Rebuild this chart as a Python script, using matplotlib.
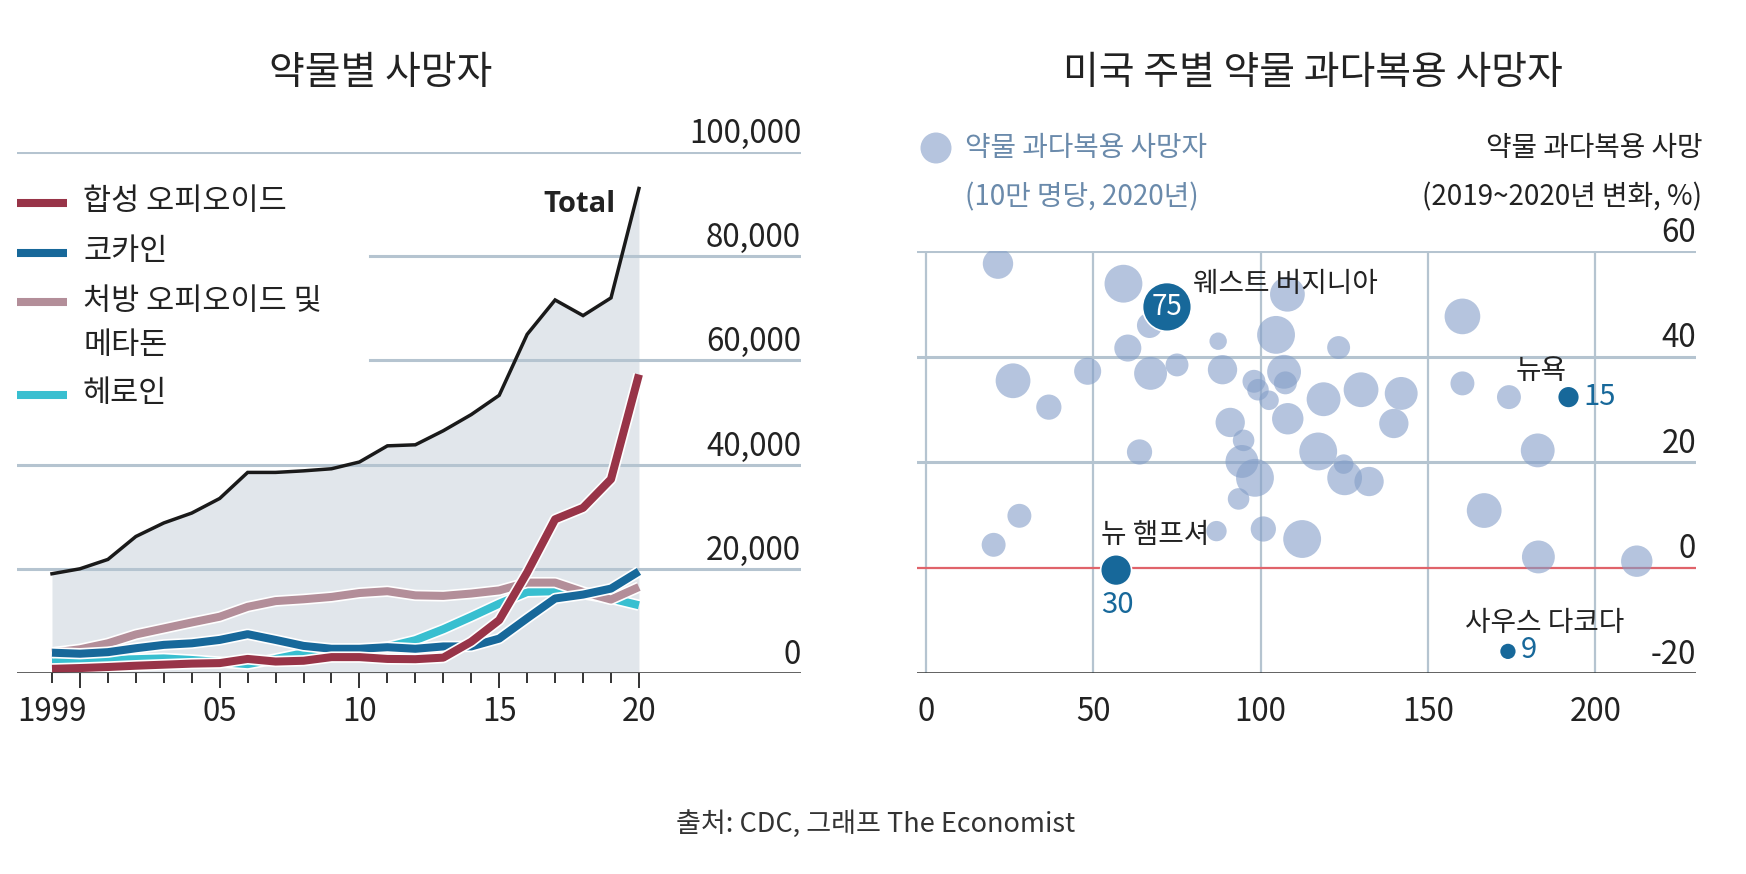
import matplotlib.pyplot as plt
import matplotlib.patheffects as peff
from matplotlib.lines import Line2D
from matplotlib.patches import Ellipse

plt.rcParams['font.family'] = ['Noto Sans CJK KR', 'DejaVu Sans']

W, H = 1746, 874
DARK = "#222222"
GRID = "#b5c4d0"
FILL = "#e1e6eb"
RED = "#983448"
BLUE = "#17689a"
MAUVE = "#b38e99"
CYAN = "#38bfd0"
BUBBLE = "#849ec8"
LEGEND_TXT = "#6a8aab"

# ---- left chart data (deaths by drug) ----
years = list(range(1999, 2021))
total = [19050, 20000, 21800, 26200, 28800, 30700, 33500, 38500, 38500, 38800, 39200,
         40500, 43600, 43800, 46500, 49600, 53300, 65000, 71600, 68600, 72000, 93000]
synthetic = [800, 950, 1150, 1400, 1600, 1800, 1900, 2700, 2200, 2350, 3050,
             3050, 2700, 2650, 2950, 6000, 10150, 19300, 29500, 31700, 37200, 57300]
cocaine = [3900, 3700, 4000, 4750, 5400, 5700, 6350, 7450, 6350, 5200, 4650,
           4650, 4950, 4650, 5100, 5100, 6600, 10500, 14300, 15050, 16200, 19500]
prescription = [3900, 4550, 5700, 7400, 8550, 9700, 10800, 12700, 13800, 14150, 14600,
                15350, 15700, 14900, 14800, 15250, 15850, 17350, 17350, 15550, 14100, 16500]
heroin = [2300, 2350, 2500, 2650, 2800, 2500, 2100, 1700, 2700, 3800, 4200,
          4400, 5000, 6300, 8400, 10800, 13300, 15550, 15700, 15200, 14300, 13000]

left_yticks = [0, 20000, 40000, 60000, 80000, 100000]
left_xlabels = {1999: "1999", 2005: "05", 2010: "10", 2015: "15", 2020: "20"}
legend_names = ["합성 오피오이드", "코카인", "처방 오피오이드 및\n메타돈", "헤로인"]

# ---- right chart data (states) ----
state_x = [21.5, 59, 108, 160.3, 66.8, 104.6, 87.3, 123.3, 60.3, 26, 48.3, 67.1, 75,
           88.6, 107, 98, 107.4, 99.2, 102.5, 118.8, 130, 142, 160.3, 174.2, 36.7,
           90.9, 108.1, 139.8, 94.9, 63.8, 117.2, 182.8, 94.4, 124.8, 125.1, 98.3,
           132.4, 93.4, 166.8, 27.9, 86.8, 100.8, 112.4, 20.2, 183, 212.4]
state_y = [57.6, 53.8, 51.8, 47.6, 45.9, 44.1, 42.9, 41.7, 41.6, 35.4, 37.2, 36.8, 38.4,
           37.5, 37.1, 35.3, 35, 33.7, 31.7, 31.9, 33.7, 33, 34.9, 32.3, 30.4,
           27.5, 28.2, 27.3, 24.1, 21.9, 22, 22.2, 20.1, 19.6, 17, 17,
           16.3, 13, 10.8, 9.8, 6.9, 7.3, 5.4, 4.3, 2, 1.2]
state_rate = [29, 45, 38, 40, 20, 45, 9.5, 16.5, 23, 38, 23, 34, 16.5,
              27, 36, 16.5, 16.5, 14.6, 12, 36, 38, 34, 18, 18, 20,
              27, 31, 27, 14.6, 20, 45, 36, 34, 12, 38, 45,
              27, 14.6, 38, 18, 13, 20, 45, 18, 34, 31]

hl_names = ["웨스트 버지니아", "뉴욕", "뉴 햄프셔", "사우스 다코다"]
hl_x = [72, 192, 56.8, 173.9]
hl_y = [49.4, 32.3, -0.5, -15.9]
hl_rate = [75, 15, 30, 9]

right_xticks = [0, 50, 100, 150, 200]
right_yticks = [-20, 0, 20, 40, 60]

SIZE_K = 16.5  # marker area (pt^2) per death rate unit


def px(x0, y0, x1, y1):
    # pixel box (top-left origin) -> figure fraction rect
    return [x0 / W, 1 - y1 / H, (x1 - x0) / W, (y1 - y0) / H]


fig = plt.figure(figsize=(W / 100, H / 100), dpi=100)

# ================= left chart =================
ax = fig.add_axes(px(17, 152, 801, 673))
ax.set_xlim(1999 - 35 / 27.95, 1999 + 749 / 27.95)
ax.set_ylim(0, 100000)
for s in ax.spines.values():
    s.set_visible(False)

ax.fill_between(years, 0, total, color=FILL, lw=0, zorder=1)

for v in left_yticks:
    if v > 0:
        xmin = 0.45 if v in (60000, 80000) else 0
        ax.axhline(v, xmin=xmin, xmax=1, color=GRID, lw=2.2, zorder=2)
    ax.annotate(f"{v:,}", xy=(1, v), xycoords=("axes fraction", "data"),
                xytext=(0, 13), textcoords="offset points",
                ha="right", va="center", fontsize=22.5, color=DARK)
ax.axhline(0, color="#333333", lw=1.8, zorder=6)

ax.plot(years, total, color="#1a1a1a", lw=2.5, zorder=3, solid_joinstyle="miter")

stroke = [peff.withStroke(linewidth=8.2, foreground="white")]
series = [(heroin, CYAN), (prescription, MAUVE), (cocaine, BLUE), (synthetic, RED)]
for i, (vals, col) in enumerate(series):
    ax.plot(years, vals, color=col, lw=5.8, zorder=4 + i * 0.1,
            solid_capstyle="butt", path_effects=stroke)

ax.set_xticks([2000, 2005, 2010, 2015, 2020])
ax.set_xticks([y for y in years if y % 5 != 0], minor=True)
ax.tick_params(axis="x", which="major", length=10.5, width=1.4, color="#333333",
               labelbottom=False)
ax.tick_params(axis="x", which="minor", length=7, width=1.4, color="#333333")
ax.set_yticks([])
for yr, lab in left_xlabels.items():
    ax.annotate(lab, xy=(yr, 0), xycoords=("data", "axes fraction"),
                xytext=(0, -28), textcoords="offset points",
                ha="center", va="center", fontsize=22.5, color=DARK)

fig.text(616 / W, 1 - 204 / H, "Total", ha="right", va="center",
         fontsize=21, fontweight="bold", color=DARK, family=["Open Sans", "DejaVu Sans"])

# legend
leg_cols = [RED, BLUE, MAUVE, CYAN]
leg_y = [203, 253, 302, 395]
for col, yy, name in zip(leg_cols, leg_y, legend_names):
    fig.add_artist(Line2D([17 / W, 67 / W], [1 - yy / H, 1 - yy / H],
                          color=col, lw=5.8, solid_capstyle="butt"))
    lines = name.split("\n")
    for k, t in enumerate(lines):
        fig.text(83 / W, 1 - (yy - 1 + k * 45) / H, t, ha="left", va="center",
                 fontsize=22, color=DARK)

fig.text(381 / W, 1 - 73 / H, "약물별 사망자", ha="center", va="center",
         fontsize=28, color=DARK)

# ================= right chart =================
bx = fig.add_axes(px(917, 251, 1696, 673))
bx.set_xlim(-2.7, 230.1)
bx.set_ylim(-20, 60)
for s in bx.spines.values():
    s.set_visible(False)
bx.set_xticks([])
bx.set_yticks([])

for v in right_xticks:
    bx.axvline(v, color=GRID, lw=1.6, zorder=1)
    bx.annotate(str(v), xy=(v, 0), xycoords=("data", "axes fraction"),
                xytext=(0, -28), textcoords="offset points",
                ha="center", va="center", fontsize=22.5, color=DARK)
for v in right_yticks:
    if v == 0:
        bx.axhline(v, color="#e0636a", lw=1.6, zorder=1.5)
    elif v == -20:
        bx.axhline(v, color="#333333", lw=1.8, zorder=6)
    else:
        bx.axhline(v, color=GRID, lw=2.2, zorder=1)
    bx.annotate(str(v), xy=(1, v), xycoords=("axes fraction", "data"),
                xytext=(0, 13), textcoords="offset points",
                ha="right", va="center", fontsize=22.5, color=DARK)

bx.scatter(state_x, state_y, s=[SIZE_K * r for r in state_rate], color=BUBBLE,
           alpha=0.6, lw=0, zorder=3)
bx.scatter(hl_x, hl_y, s=[SIZE_K * r for r in hl_rate], color=BLUE,
           edgecolors="white", linewidths=1.2, zorder=5)

# West Virginia
bx.text(hl_x[0], hl_y[0], str(hl_rate[0]), ha="center", va="center",
        fontsize=20, color="white", zorder=6)
bx.text(79.7, 53.8, hl_names[0], ha="left", va="center", fontsize=20, color=DARK, zorder=6)
# New York
bx.text(183.8, 37.2, hl_names[1], ha="center", va="center", fontsize=20, color=DARK, zorder=6)
bx.text(196.3, 32.3, str(hl_rate[1]), ha="left", va="center", fontsize=21, color=BLUE, zorder=6)
# New Hampshire
bx.text(52.4, 6.1, hl_names[2], ha="left", va="center", fontsize=20, color=DARK, zorder=6)
bx.text(57.2, -7.2, str(hl_rate[2]), ha="center", va="center", fontsize=21, color=BLUE, zorder=6)
# South Dakota
bx.text(161, -10.5, hl_names[3], ha="left", va="center", fontsize=20, color=DARK, zorder=6)
bx.text(177.6, -15.6, str(hl_rate[3]), ha="left", va="center", fontsize=21, color=BLUE, zorder=6)

# legend / headers
fig.add_artist(Ellipse((936 / W, 1 - 148 / H), 31 / W, 31 / H, transform=fig.transFigure,
                       color=BUBBLE, alpha=0.6, lw=0))
fig.text(965 / W, 1 - 148 / H, "약물 과다복용 사망자", ha="left", va="center",
         fontsize=20, color=LEGEND_TXT)
fig.text(965 / W, 1 - 197 / H, "(10만 명당, 2020년)", ha="left", va="center",
         fontsize=20, color=LEGEND_TXT)
fig.text(1702 / W, 1 - 148 / H, "약물 과다복용 사망", ha="right", va="center",
         fontsize=20, color=DARK)
fig.text(1702 / W, 1 - 197 / H, "(2019~2020년 변화, %)", ha="right", va="center",
         fontsize=20, color=DARK)

fig.text(1313 / W, 1 - 73 / H, "미국 주별 약물 과다복용 사망자", ha="center", va="center",
         fontsize=28, color=DARK)

fig.text(876 / W, 1 - 824 / H, "출처: CDC, 그래프 The Economist", ha="center", va="center",
         fontsize=19.5, color="#333333")

fig.savefig("out.png", dpi=100, facecolor="white")
